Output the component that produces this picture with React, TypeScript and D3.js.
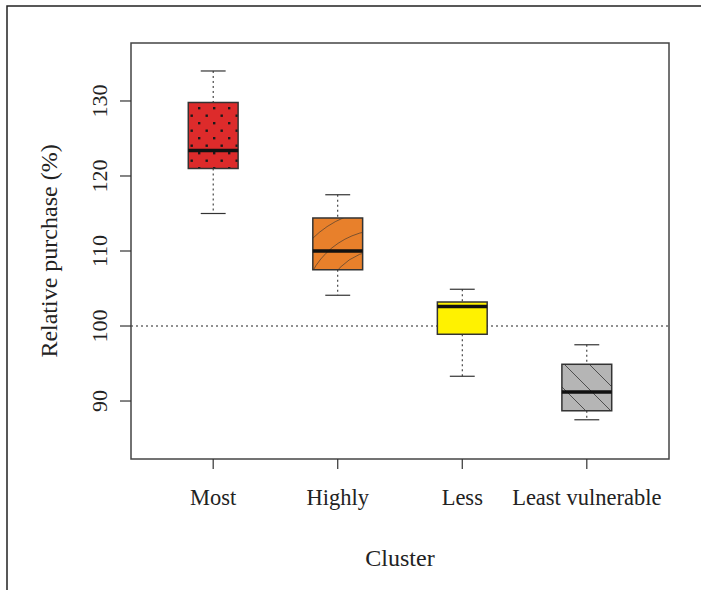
import React from "react";
import * as d3 from "d3";

// five-number summaries
const clusters = ["Most", "Highly", "Less", "Least vulnerable"];
const whiskerLow = [115.0, 104.1, 93.3, 87.5];
const boxLow = [121.0, 107.5, 98.9, 88.7];
const medians = [123.4, 110.0, 102.6, 91.2];
const boxHigh = [129.8, 114.4, 103.2, 94.9];
const whiskerHigh = [134.0, 117.5, 104.9, 97.5];
const fills = ["#dd2b2b", "#e8802b", "#fff200", "#b5b5b5"];
const patterns = ["dots", "curves", "none", "diag"];
const yTicks = [90, 100, 110, 120, 130];
const refLine = 100;

const W = 701;
const H = 590;
const plot = { left: 131, top: 43, right: 669, bottom: 459 };
const font = "'Liberation Serif', 'Times New Roman', serif";

const App: React.FC = () => {
  const x = d3
    .scaleLinear()
    .domain([0.34, clusters.length + 0.66])
    .range([plot.left, plot.right]);
  const y = d3.scaleLinear().domain([82.27, 137.73]).range([plot.bottom, plot.top]);
  const boxHalf = (x(1) - x(0)) * 0.2;
  const capHalf = boxHalf / 2;

  return (
    <div style={{ position: "fixed", left: 0, top: 0 }}>
      <svg width={W} height={H} style={{ display: "block", background: "#fff" }}>
        <defs>
          <pattern id="dots" x={3} y={2} width={15} height={15} patternUnits="userSpaceOnUse">
            <rect x={0} y={0} width={2.4} height={2.4} fill="#1a1a1a" />
            <rect x={7.5} y={7.5} width={2.4} height={2.4} fill="#1a1a1a" />
          </pattern>
          <pattern id="diag" width={25} height={25} patternUnits="userSpaceOnUse">
            <path d="M-5,-5 L30,30 M-5,20 L5,30 M20,-5 L30,5" stroke="#333" strokeWidth={0.8} />
          </pattern>
          {clusters.map((c, i) => (
            <clipPath id={`clip${i}`} key={c}>
              <rect
                x={x(i + 1) - boxHalf}
                y={y(boxHigh[i])}
                width={boxHalf * 2}
                height={y(boxLow[i]) - y(boxHigh[i])}
              />
            </clipPath>
          ))}
        </defs>

        {/* outer frame */}
        <path d={`M7,${H} L7,6 L${W},6`} fill="none" stroke="#222" strokeWidth={1.5} />

        {/* reference line */}
        <line
          x1={plot.left}
          x2={plot.right}
          y1={y(refLine)}
          y2={y(refLine)}
          stroke="#222"
          strokeWidth={1}
          strokeDasharray="2,3"
        />

        {clusters.map((c, i) => {
          const cx = x(i + 1);
          const top = y(boxHigh[i]);
          const bot = y(boxLow[i]);
          const left = cx - boxHalf;
          const bw = boxHalf * 2;
          const bh = bot - top;
          return (
            <g key={c}>
              <line x1={cx} x2={cx} y1={y(whiskerHigh[i])} y2={top} stroke="#222" strokeDasharray="2,3" />
              <line x1={cx} x2={cx} y1={bot} y2={y(whiskerLow[i])} stroke="#222" strokeDasharray="2,3" />
              <line x1={cx - capHalf} x2={cx + capHalf} y1={y(whiskerHigh[i])} y2={y(whiskerHigh[i])} stroke="#333" strokeWidth={1.2} />
              <line x1={cx - capHalf} x2={cx + capHalf} y1={y(whiskerLow[i])} y2={y(whiskerLow[i])} stroke="#333" strokeWidth={1.2} />
              <rect x={left} y={top} width={bw} height={bh} fill={fills[i]} />
              {patterns[i] === "dots" && <rect x={left} y={top} width={bw} height={bh} fill="url(#dots)" />}
              {patterns[i] === "diag" && <rect x={left} y={top} width={bw} height={bh} fill="url(#diag)" />}
              {patterns[i] === "curves" && (
                <g clipPath={`url(#clip${i})`}>
                  {[40, 60, 80, 100, 118].map((r) => (
                    <circle
                      key={r}
                      cx={left + bw + 20}
                      cy={bot + 40}
                      r={r}
                      fill="none"
                      stroke="#333"
                      strokeWidth={0.6}
                    />
                  ))}
                </g>
              )}
              <rect x={left} y={top} width={bw} height={bh} fill="none" stroke="#333" strokeWidth={1.5} />
              <line x1={left} x2={left + bw} y1={y(medians[i])} y2={y(medians[i])} stroke="#111" strokeWidth={3.5} />
            </g>
          );
        })}

        {/* plot box */}
        <rect
          x={plot.left}
          y={plot.top}
          width={plot.right - plot.left}
          height={plot.bottom - plot.top}
          fill="none"
          stroke="#444"
          strokeWidth={1.5}
        />

        {/* y axis */}
        {yTicks.map((t) => (
          <g key={t}>
            <line x1={plot.left - 11} x2={plot.left} y1={y(t)} y2={y(t)} stroke="#333" strokeWidth={1.2} />
            <text
              transform={`translate(107,${y(t)}) rotate(-90)`}
              textAnchor="middle"
              fontFamily={font}
              fontSize={22}
              fill="#222"
            >
              {t}
            </text>
          </g>
        ))}

        {/* x axis ticks */}
        {clusters.map((c, i) => (
          <g key={c}>
            <line x1={x(i + 1)} x2={x(i + 1)} y1={plot.bottom} y2={plot.bottom + 10} stroke="#333" strokeWidth={1.2} />
            <text x={x(i + 1)} y={505} textAnchor="middle" fontFamily={font} fontSize={22.5} fill="#222">
              {c}
            </text>
          </g>
        ))}

        <text x={(plot.left + plot.right) / 2} y={566} textAnchor="middle" fontFamily={font} fontSize={24} fill="#222">
          Cluster
        </text>
        <text
          transform={`translate(57,${(plot.top + plot.bottom) / 2}) rotate(-90)`}
          textAnchor="middle"
          fontFamily={font}
          fontSize={24}
          fill="#222"
        >
          Relative purchase (%)
        </text>
      </svg>
    </div>
  );
};

export default App;
